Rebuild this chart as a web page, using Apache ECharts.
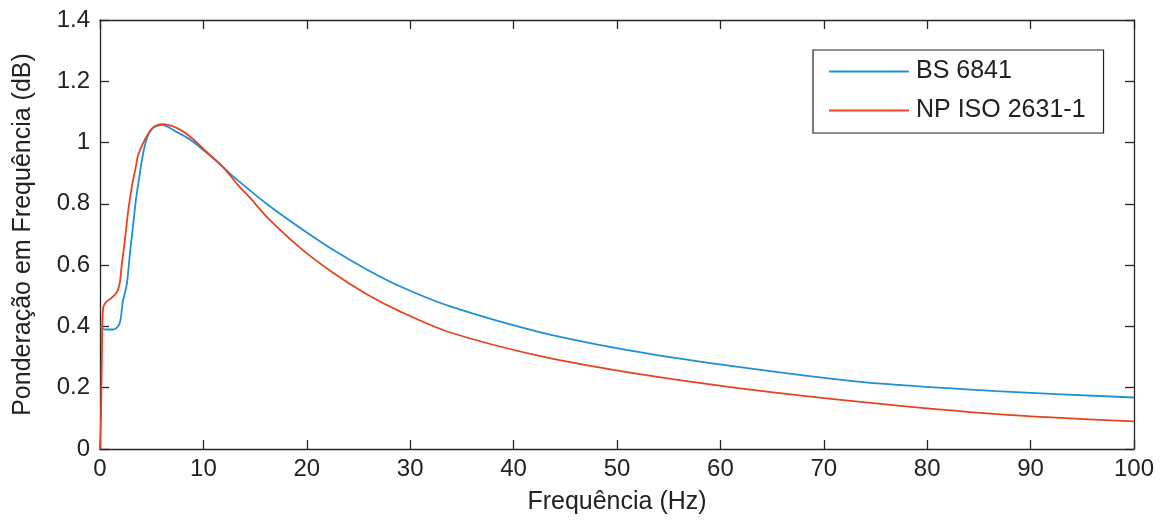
<!DOCTYPE html>
<html>
<head>
<meta charset="utf-8">
<script src="https://cdn.jsdelivr.net/npm/echarts@6/dist/echarts.min.js"></script>
<style>
html,body{margin:0;padding:0;background:#fff;}
#chart{width:1160px;height:523px;}
</style>
</head>
<body>
<div id="chart"></div>
<script>
// frequencia (Hz) / ponderacao
var bsFreq = [0, 0.5, 1.3, 1.9, 2.2, 2.6, 2.9, 3.2, 3.5, 3.9, 4.2, 4.5, 4.8, 5.3, 6, 7.4, 8.7, 10.3, 11.9, 12.9, 16.2, 19.3, 22.5, 25.8, 29, 33.8, 42.6, 52.2, 61.9, 73.8, 86.7, 100];
var bsVal  = [0.40, 0.39, 0.39, 0.41, 0.48, 0.54, 0.64, 0.73, 0.82, 0.91, 0.97, 1.01, 1.035, 1.052, 1.058, 1.035, 1.01, 0.967, 0.92, 0.889, 0.798, 0.723, 0.651, 0.586, 0.531, 0.466, 0.381, 0.316, 0.267, 0.218, 0.189, 0.168];

var isoFreq = [0, 0.1, 0.2, 0.3, 0.6, 1.0, 1.6, 1.9, 2.1, 2.4, 2.7, 3.1, 3.4, 3.7, 4.2, 4.6, 5.0, 5.5, 6, 7.4, 8.7, 10.3, 11.9, 13.3, 14.5, 16.2, 19.3, 22.5, 25.8, 29, 33.8, 42.6, 52.2, 61.9, 73.8, 86.7, 100];
var isoVal  = [0, 0.11, 0.35, 0.46, 0.48, 0.49, 0.51, 0.54, 0.60, 0.68, 0.77, 0.86, 0.91, 0.96, 1.0, 1.025, 1.045, 1.056, 1.06, 1.048, 1.02, 0.97, 0.92, 0.863, 0.82, 0.755, 0.658, 0.576, 0.505, 0.449, 0.381, 0.303, 0.244, 0.198, 0.153, 0.114, 0.09];

var seriesNames = ['BS 6841', 'NP ISO 2631-1'];

function pares(xs, ys){
	var out = [];
	for(var i = 0; i < xs.length; i++){
		out.push([xs[i], ys[i]]);
	}
	return out;
}

var myChart = echarts.init(document.getElementById('chart'));
var fonte = 'Liberation Sans, Arial, sans-serif';
var eixoCor = '#262626';

var option = {
	animation: false,
	textStyle: { fontFamily: fonte },
	grid: { left: 100, right: 26, top: 20, bottom: 74 },
	legend: {
		data: seriesNames,
		orient: 'vertical',
		left: 813,
		top: 50,
		icon: 'rect',
		padding: [9, 18, 10, 16],
		itemWidth: 80,
		itemHeight: 2,
		itemGap: 14,
		borderColor: '#222',
		borderWidth: 1.2,
		borderRadius: 0,
		backgroundColor: '#fff',
		textStyle: { fontSize: 25, color: '#222', fontFamily: fonte, padding: [0, 0, 0, 2] }
	},
	xAxis: [{
		type: 'value', min: 0, max: 100, interval: 10,
		name: 'Frequência (Hz)', nameLocation: 'middle', nameGap: 41,
		nameTextStyle: { fontSize: 25, color: '#222', fontFamily: fonte },
		axisLine: { onZero: false, lineStyle: { color: eixoCor, width: 1.3 } },
		axisTick: { inside: true, length: 9, lineStyle: { color: eixoCor, width: 1.3 } },
		axisLabel: { fontSize: 24, color: '#222', margin: 8, fontFamily: fonte },
		splitLine: { show: false }
	}, {
		type: 'value', min: 0, max: 100, interval: 10, position: 'top',
		axisLine: { onZero: false, lineStyle: { color: eixoCor, width: 1.3 } },
		axisTick: { inside: true, length: 9, lineStyle: { color: eixoCor, width: 1.3 } },
		axisLabel: { show: false },
		splitLine: { show: false }
	}],
	yAxis: [{
		type: 'value', min: 0, max: 1.4, interval: 0.2,
		name: 'Ponderação em Frequência (dB)', nameLocation: 'middle', nameGap: 64,
		nameTextStyle: { fontSize: 25, color: '#222', fontFamily: fonte },
		axisLine: { show: true, onZero: false, lineStyle: { color: eixoCor, width: 1.3 } },
		axisTick: { show: true, inside: true, length: 9, lineStyle: { color: eixoCor, width: 1.3 } },
		axisLabel: { fontSize: 24, color: '#222', margin: 10, fontFamily: fonte,
			formatter: function(v){ return String(Math.round(v * 10) / 10); } },
		splitLine: { show: false }
	}, {
		type: 'value', min: 0, max: 1.4, interval: 0.2, position: 'right',
		axisLine: { show: true, onZero: false, lineStyle: { color: eixoCor, width: 1.3 } },
		axisTick: { show: true, inside: true, length: 9, lineStyle: { color: eixoCor, width: 1.3 } },
		axisLabel: { show: false },
		splitLine: { show: false }
	}],
	series: [{
		name: seriesNames[0],
		type: 'line',
		symbol: 'none',
		smooth: 0.3,
		color: '#1f8fd6',
		lineStyle: { width: 1.8 },
		data: pares(bsFreq, bsVal)
	}, {
		name: seriesNames[1],
		type: 'line',
		symbol: 'none',
		smooth: 0.3,
		color: '#e4441f',
		lineStyle: { width: 1.8 },
		data: pares(isoFreq, isoVal)
	}]
};
myChart.setOption(option);
</script>
</body>
</html>
